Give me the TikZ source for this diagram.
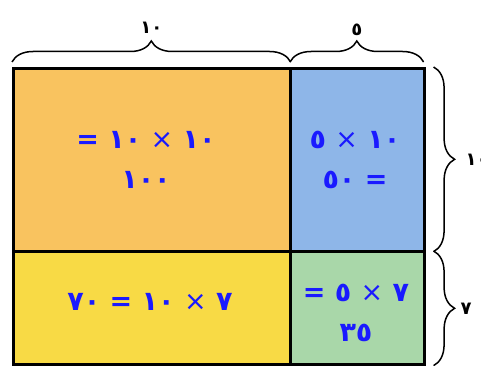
\documentclass[tikz,border=0pt]{standalone}
\usepackage{fontspec}
\usepackage{xcolor}
\TeXXeTstate=1
\newfontfamily\arabicfont[Script=Arabic]{DejaVu Sans}
\usetikzlibrary{decorations.pathreplacing}
\definecolor{cellorange}{HTML}{F9C35F}
\definecolor{cellblue}{HTML}{8EB6E8}
\definecolor{cellyellow}{HTML}{F8DA45}
\definecolor{cellgreen}{HTML}{A9D7A9}
\definecolor{numblue}{HTML}{1A1AFF}
\newcommand{\tms}{{\mdseries ×}}

\begin{document}
\begin{tikzpicture}[
    x=1pt, y=1pt,
    cell/.style={rectangle, draw, line width=2.6pt, inner sep=0pt, anchor=north west},
    prod/.style={font=\arabicfont\bfseries\fontsize{27}{40}\selectfont, text=numblue, align=center},
    side/.style={font=\arabicfont\bfseries\fontsize{18}{20}\selectfont},
    brace/.style={decorate, decoration={brace, amplitude=21pt}, line width=1.5pt}
]
\useasboundingbox (0,0) rectangle (481,365);

% --- cells ---
\node[cell, fill=cellorange, minimum width=277pt, minimum height=183pt] (c_or) at (12,298) {};
\node[cell, fill=cellblue, minimum width=134pt, minimum height=183pt] (c_bl) at (289,298) {};
\node[cell, fill=cellyellow, minimum width=277pt, minimum height=113pt] (c_ye) at (12,115) {};
\node[cell, fill=cellgreen, minimum width=134pt, minimum height=113pt] (c_gr) at (289,115) {};

% --- products ---
\node[prod] (p_or) at (146,205) {\beginR ١٠ \tms{} ١٠ =\endR\\ \beginR ١٠٠\endR};
\node[prod] (p_bl) at (355,205) {\beginR ١٠ \tms{} ٥\endR\\ \beginR = ٥٠\endR};
\node[prod] (p_ye) at (150,63) {\beginR ٧ \tms{} ١٠ = ٧٠\endR};
\node[prod] (p_gr) at (356,52) {\beginR ٧ \tms{} ٥ =\endR\\ \beginR ٣٥\endR};

% --- braces ---
\draw[brace] ([yshift=5pt]c_or.north west) -- ([yshift=5pt,xshift=-1pt]c_or.north east)
    node[side, midway, above=24pt] (l_top1) {\beginR ١٠\endR};
\draw[brace] ([yshift=5pt,xshift=1pt]c_bl.north west) -- ([yshift=5pt,xshift=-2pt]c_bl.north east)
    node[side, midway, above=22pt] (l_top2) {\beginR ٥\endR};
\draw[brace] ([xshift=8pt]c_bl.north east) -- ([xshift=8pt,yshift=1pt]c_bl.south east)
    node[side, midway, right=28pt] (l_right1) {\beginR ١٠\endR};
\draw[brace] ([xshift=8pt,yshift=-1pt]c_gr.north east) -- ([xshift=8pt]c_gr.south east)
    node[side, midway, right=23pt] (l_right2) {\beginR ٧\endR};
\end{tikzpicture}
\end{document}
